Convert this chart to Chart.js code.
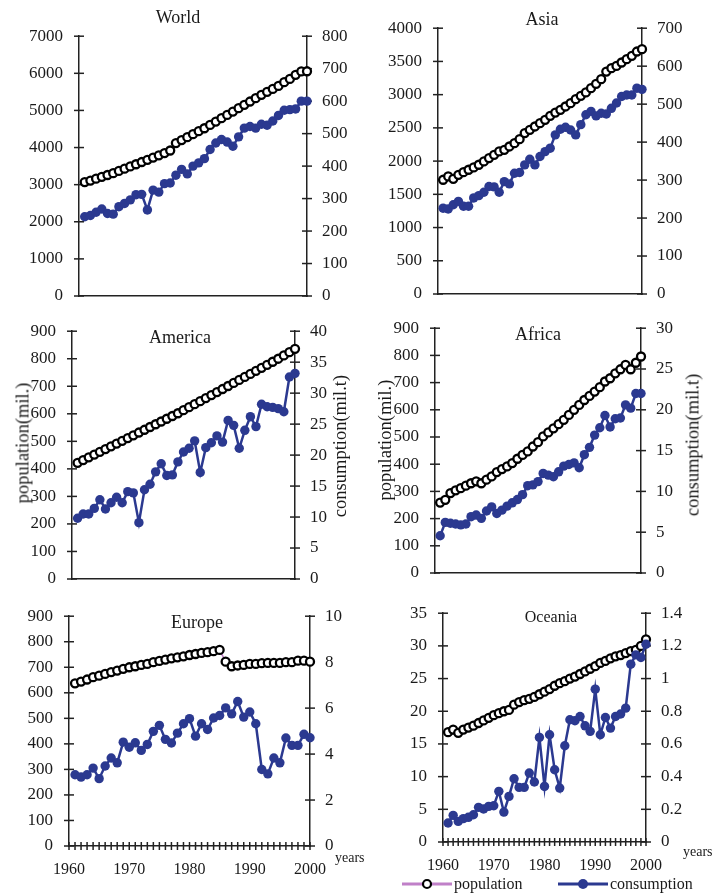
<!DOCTYPE html>
<html>
<head>
<meta charset="utf-8">
<script src="https://cdn.jsdelivr.net/npm/chart.js@4.4.1/dist/chart.umd.min.js"></script>
<style>
  body { margin:0; background:#fff; width:713px; height:895px; position:relative; overflow:hidden; font-family:'Liberation Serif', serif; color:#1a1a1a; }
  canvas { position:absolute; }
  .lbl { position:absolute; white-space:nowrap; transform:translate(-50%,-50%); z-index:2; }
  .rot { transform:translate(-50%,-50%) rotate(-90deg); }
  .yr { position:absolute; font-size:14px; transform:translateY(-50%); z-index:2; }
  .leg { position:absolute; top:875px; height:18px; font-size:16px; line-height:18px; z-index:2; }
</style>
</head>
<body>

<div class="lbl" style="left:178px;top:17px;font-size:18px">World</div>
<div class="lbl" style="left:542px;top:19px;font-size:18px">Asia</div>
<div class="lbl" style="left:180px;top:337px;font-size:18px">America</div>
<div class="lbl" style="left:538px;top:334px;font-size:18px">Africa</div>
<div class="lbl" style="left:197px;top:622px;font-size:18px">Europe</div>
<div class="lbl" style="left:551px;top:617px;font-size:16px">Oceania</div>

<div class="lbl rot" style="left:23px;top:443px;font-size:18.5px">population(mil.)</div>
<div class="lbl rot" style="left:340px;top:446px;font-size:18.5px">consumption(mil.t)</div>
<div class="lbl rot" style="left:385px;top:440px;font-size:18.5px">population(mil.)</div>
<div class="lbl rot" style="left:693px;top:445px;font-size:18.5px">consumption(mil.t)</div>

<div class="yr" style="left:335px;top:858px">years</div>
<div class="yr" style="left:683px;top:852px">years</div>

<div class="leg" style="left:400px">
  <svg width="54" height="18" style="vertical-align:top"><line x1="2" y1="9" x2="52" y2="9" stroke="#c080c8" stroke-width="3"/><circle cx="27" cy="9" r="4" fill="#fff" stroke="#000" stroke-width="2.2"/></svg><span style="vertical-align:top">population</span>
</div>
<div class="leg" style="left:556px">
  <svg width="54" height="18" style="vertical-align:top"><line x1="2" y1="9" x2="52" y2="9" stroke="#2b3990" stroke-width="3"/><circle cx="27" cy="9" r="5" fill="#2b3990"/></svg><span style="vertical-align:top">consumption</span>
</div>

<script>
// years 1961-2000
const years = [1961,1962,1963,1964,1965,1966,1967,1968,1969,1970,
  1971,1972,1973,1974,1975,1976,1977,1978,1979,1980,
  1981,1982,1983,1984,1985,1986,1987,1988,1989,1990,
  1991,1992,1993,1994,1995,1996,1997,1998,1999,2000];

// population (mil.)
const worldPop = [3070,3110,3160,3210,3260,3310,3370,3430,3490,3550,3610,3670,3730,3790,3850,3920,4120,4200,4280,4360,
  4440,4520,4610,4700,4790,4880,4970,5060,5150,5240,5330,5420,5500,5580,5660,5760,5850,5960,6050,6055];
const asiaPop = [1719,1769,1734,1794,1834,1870,1905,1945,1995,2045,2095,2145,2170,2220,2270,2330,2421,2471,2521,2571,
  2621,2681,2731,2772,2822,2872,2932,2982,3033,3098,3163,3233,3348,3398,3433,3484,3534,3584,3649,3684];
const americaPop = [422,432,442,452,462,472,482,492,502,512,522,532,542,552,562,572,582,592,602,613,
  624,635,646,657,668,679,690,701,712,723,734,745,756,767,778,789,800,812,824,836];
const africaPop = [259,269,294,304,312,321,330,337,330,343,355,371,382,392,404,420,434,447,465,481,
  502,517,532,547,563,581,600,618,636,651,667,683,704,716,734,749,765,749,773,796];
const europePop = [637,644,652,661,667,674,681,687,694,700,704,709,713,720,725,730,735,739,743,748,
  752,756,759,763,768,722,704,707,709,713,713,716,717,717,717,720,720,726,726,722];
const oceaniaPop = [16.8,17.2,16.7,17.2,17.5,17.8,18.2,18.6,19.0,19.4,19.7,20.0,20.2,21.0,21.4,21.7,21.9,22.2,22.6,23.0,
  23.4,23.9,24.3,24.6,25.0,25.3,25.7,26.1,26.5,26.9,27.4,27.7,28.1,28.4,28.6,28.9,29.2,29.4,30.0,31.0];

// consumption (mil.t)
const worldCons = [244,248,258,268,254,252,275,285,296,312,313,265,326,320,346,348,372,390,376,400,
  410,423,451,471,482,474,461,490,517,522,517,529,526,539,556,572,574,576,600,600];
const asiaCons = [226,224,235,244,231,231,253,259,268,283,282,268,296,290,318,320,340,355,340,362,
  375,384,419,434,439,432,419,446,472,481,469,476,474,489,503,520,524,524,542,539];
const americaCons = [9.8,10.5,10.5,11.4,12.8,11.3,12.3,13.2,12.3,14.1,13.9,9.1,14.4,15.3,17.3,18.6,16.7,16.8,18.9,20.5,
  21.1,22.3,17.2,21.2,22.0,23.1,22.1,25.6,24.8,21.1,24.0,26.2,24.6,28.2,27.8,27.7,27.5,27.0,32.6,33.2];
const africaCons = [4.57,6.2,6.1,6.0,5.9,6.0,6.9,7.1,6.7,7.6,8.1,7.3,7.7,8.2,8.6,9.0,9.6,10.7,10.8,11.2,
  12.2,12.0,11.8,12.4,13.1,13.3,13.5,12.9,14.5,15.4,16.9,17.8,19.3,17.9,18.9,19.0,20.6,20.2,22.0,22.0];
const europeCons = [3.10,3.00,3.10,3.39,2.93,3.48,3.83,3.62,4.52,4.30,4.49,4.16,4.42,4.99,5.25,4.64,4.48,4.91,5.32,5.54,
  4.78,5.32,5.07,5.57,5.68,6.01,5.75,6.29,5.61,5.83,5.32,3.33,3.14,3.83,3.62,4.70,4.38,4.38,4.86,4.71];
const oceaniaCons = [0.116,0.163,0.126,0.143,0.151,0.167,0.212,0.202,0.218,0.222,0.310,0.183,0.279,0.387,0.334,0.334,0.422,0.367,0.640,0.340,
  0.656,0.442,0.330,0.589,0.748,0.742,0.768,0.711,0.677,0.935,0.656,0.762,0.697,0.768,0.783,0.819,1.088,1.145,1.129,1.210];

// axis ranges: [max, step] for left (population) and right (consumption)
const panels = [
  { name:'World',   pop:worldPop,   cons:worldCons,   popAxis:[7000,1000], consAxis:[800,100], box:[79,36,307,296],  xLabels:false },
  { name:'Asia',    pop:asiaPop,    cons:asiaCons,    popAxis:[4000,500],  consAxis:[700,100], box:[438,28,642,294], xLabels:false },
  { name:'America', pop:americaPop, cons:americaCons, popAxis:[900,100],   consAxis:[40,5],    box:[72,331,295,579], xLabels:false },
  { name:'Africa',  pop:africaPop,  cons:africaCons,  popAxis:[900,100],   consAxis:[30,5],    box:[435,328,641,573], xLabels:false },
  { name:'Europe',  pop:europePop,  cons:europeCons,  popAxis:[900,100],   consAxis:[10,2],    box:[69,616,310,846], xLabels:true },
  { name:'Oceania', pop:oceaniaPop, cons:oceaniaCons, popAxis:[35,5],      consAxis:[1.4,0.2], box:[443,613,646,842], xLabels:true }
];

const AXIS = '#222';
const TXT = '#1a1a1a';
const font = { family:"'Liberation Serif', serif", size:17 };

// tick marks that cross the axis line, like the original
const crossTicks = {
  id:'crossTicks',
  beforeDatasetsDraw(chart, args, opts) {
    const ctx = chart.ctx;
    const seg = (x1,y1,x2,y2) => { ctx.beginPath(); ctx.moveTo(x1,y1); ctx.lineTo(x2,y2); ctx.stroke(); };
    ctx.save();
    ctx.strokeStyle = AXIS; ctx.lineWidth = 1.5;
    const yl = chart.scales.y, yr = chart.scales.y1;
    yl.ticks.forEach((t,i) => { const p = yl.getPixelForTick(i); seg(yl.right-5,p,yl.right+5,p); });
    yr.ticks.forEach((t,i) => { const p = yr.getPixelForTick(i); seg(yr.left-5,p,yr.left+5,p); });
    if (opts.showX) {
      const xs = chart.scales.x;
      xs.ticks.forEach((t,i) => { const p = xs.getPixelForTick(i); seg(p,xs.top-4,p,xs.top+4); });
    }
    ctx.restore();
  }
};

const fmt = v => String(+Number(v).toFixed(2));

const LW = 70, RW = 62, TP = 14, BH = 40;

panels.forEach(p => {
  const [L,T,R,B] = p.box;
  const c = document.createElement('canvas');
  c.width = R - L + LW + RW;
  c.height = B - T + TP + BH;
  document.body.appendChild(c);

  const chart = new Chart(c.getContext('2d'), {
    type:'line',
    data:{
      datasets:[
        { label:'consumption', yAxisID:'y1', data:years.map((x,i) => ({x, y:p.cons[i]})),
          borderColor:'#2b3990', borderWidth:2.5, tension:0,
          pointRadius:4.7, pointBackgroundColor:'#2b3990', pointBorderColor:'#2b3990', pointBorderWidth:0, clip:false },
        { label:'population', yAxisID:'y', data:years.map((x,i) => ({x, y:p.pop[i]})),
          borderColor:'#c080c8', borderWidth:1.5, tension:0,
          pointRadius:4, pointBackgroundColor:'#fff', pointBorderColor:'#000', pointBorderWidth:2.3, clip:false }
      ]
    },
    plugins:[crossTicks],
    options:{
      responsive:false, maintainAspectRatio:false, animation:false, devicePixelRatio:1,
      layout:{ padding:{ top:TP, left:0, right:0, bottom:0 } },
      plugins:{ legend:{display:false}, tooltip:{enabled:false}, crossTicks:{ showX:p.xLabels } },
      scales:{
        x:{ type:'linear', min:1960, max:2000,
            afterFit: s => { s.height = BH; },
            grid:{ display:false, drawTicks:false },
            border:{ display:true, color:AXIS, width:1.5 },
            ticks:{ display:p.xLabels, stepSize:1, autoSkip:false, maxRotation:0, padding:14,
                    font:{...font, size:16}, color:TXT,
                    callback: v => (v % 10 === 0 ? String(v) : '') } },
        y:{ position:'left', min:0, max:p.popAxis[0],
            afterFit: s => { s.width = LW; },
            grid:{ display:false, drawTicks:false },
            border:{ display:true, color:AXIS, width:1.5 },
            ticks:{ stepSize:p.popAxis[1], padding:16, font, color:TXT, callback:fmt } },
        y1:{ position:'right', min:0, max:p.consAxis[0],
            afterFit: s => { s.width = RW; },
            grid:{ display:false, drawTicks:false },
            border:{ display:true, color:AXIS, width:1.5 },
            ticks:{ stepSize:p.consAxis[1], padding:15, font, color:TXT, callback:fmt } }
      }
    }
  });

  // grow the canvas so the plot area gets the size it has in the original, then place it
  const a = chart.chartArea;
  const dw = (R - L) - Math.round(a.right - a.left);
  const dh = (B - T) - Math.round(a.bottom - a.top);
  if (dw || dh) chart.resize(c.width + dw, c.height + dh);
  c.style.left = (L - Math.round(chart.chartArea.left)) + 'px';
  c.style.top = (T - Math.round(chart.chartArea.top)) + 'px';
});
</script>
</body>
</html>
